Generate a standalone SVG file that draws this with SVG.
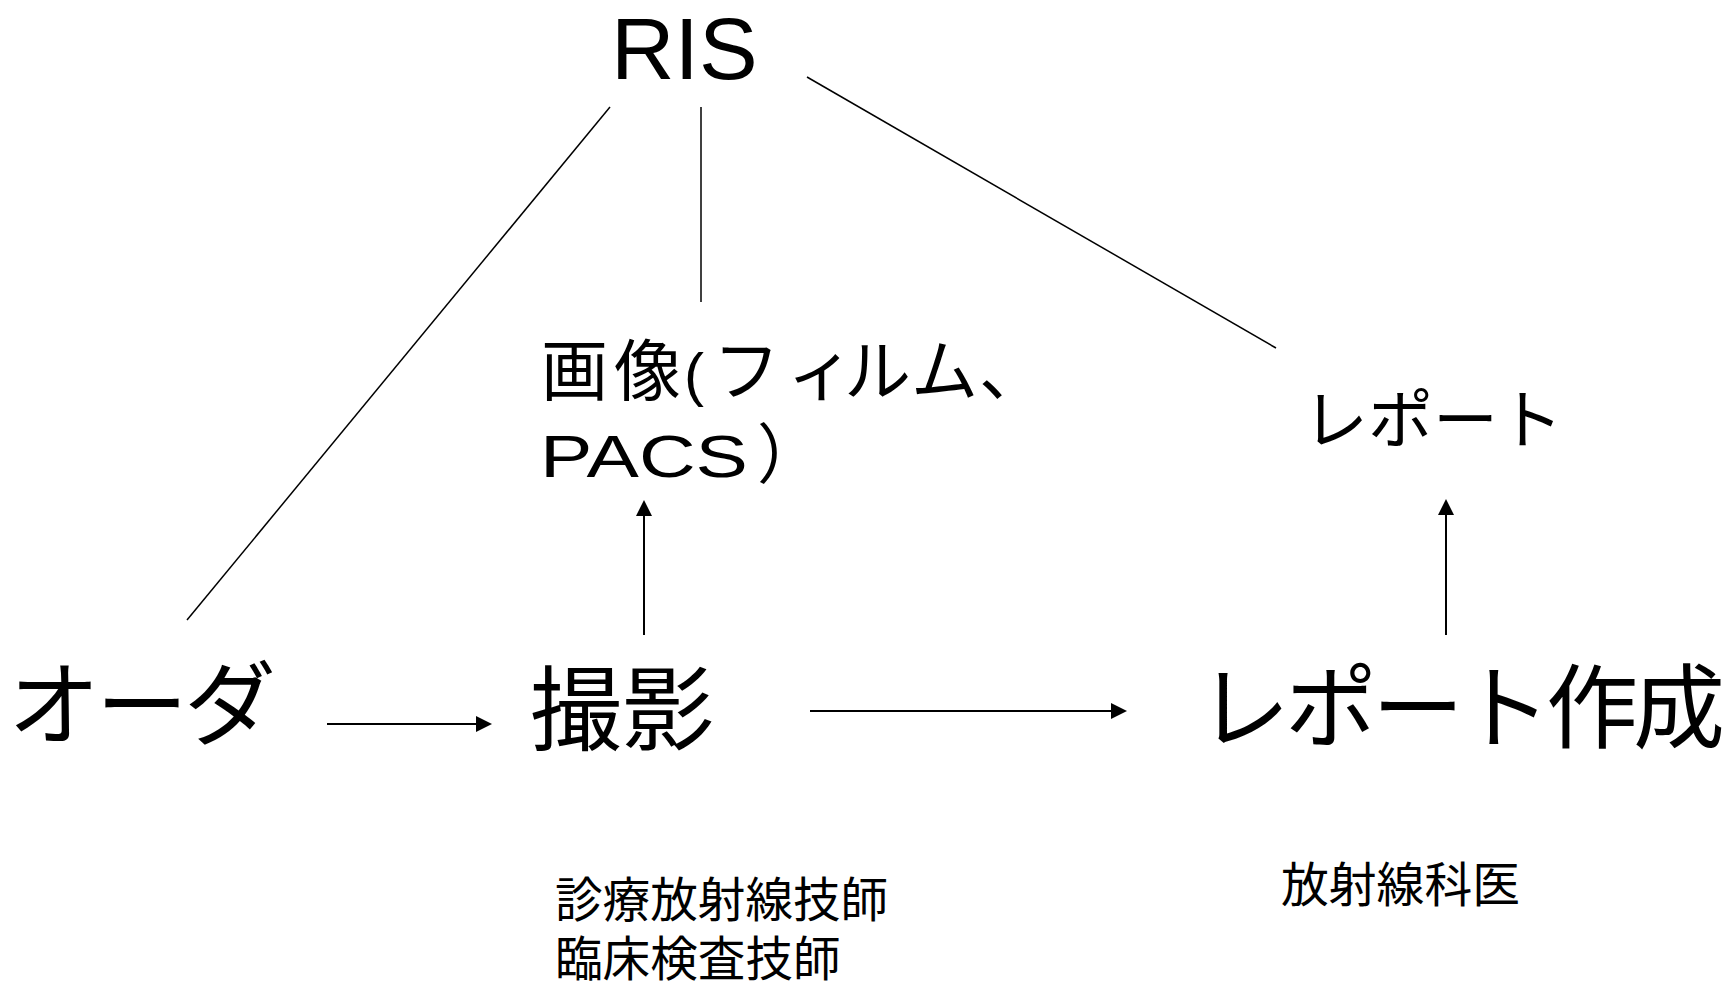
<svg xmlns="http://www.w3.org/2000/svg" width="1729" height="983" viewBox="0 0 1729 983">
<style>
text{fill:#000;font-family:"Liberation Sans","Noto Sans CJK JP",sans-serif}
.j{font-family:"Noto Sans CJK JP","Liberation Sans",sans-serif}
.ln{stroke:#000;stroke-width:1.5;fill:none}
.ar{stroke:#000;stroke-width:2;fill:none;marker-end:url(#ah)}
</style>
<defs>
<marker id="ah" markerWidth="8" markerHeight="8" refX="7" refY="4" orient="auto" markerUnits="strokeWidth">
<path d="M0,0 L8,4 L0,8 z" fill="#000"/>
</marker>
</defs>
<rect width="1729" height="983" fill="#fff"/>
<g id="connectors">
<line class="ln" x1="610" y1="107" x2="187" y2="620"/>
<line class="ln" x1="701" y1="107" x2="701" y2="302"/>
<line class="ln" x1="807" y1="77" x2="1276" y2="348"/>
<line class="ar" x1="327" y1="724" x2="490" y2="724"/>
<line class="ar" x1="810" y1="711" x2="1125" y2="711"/>
<line class="ar" x1="644" y1="635" x2="644" y2="502"/>
<line class="ar" x1="1446" y1="635" x2="1446" y2="501"/>
</g>
<g id="ris"><text x="611" y="79" font-size="88">RIS</text></g>
<g id="image"><text font-size="60"><tspan class="j" font-size="67" x="541 614" y="395">画像</tspan><tspan x="684" y="395">(</tspan><tspan class="j" font-size="67" x="713 787 844 911 979" y="395">フィルム、</tspan><tspan x="540" y="477" textLength="208" lengthAdjust="spacingAndGlyphs">PACS</tspan><tspan class="j" font-size="65" x="757" y="477">）</tspan></text></g>
<g id="report"><text class="j" x="1303" y="443" font-size="65">レポート</text></g>
<g id="order"><text class="j" x="8" y="738" font-size="92" letter-spacing="-4">オーダ</text></g>
<g id="satsuei"><text class="j" x="530" y="743" font-size="92">撮影</text></g>
<g id="report-make"><text class="j" x="1198" y="741" font-size="92" letter-spacing="-5">レポート作成</text></g>
<g id="staff1"><text class="j" font-size="47.6"><tspan x="555" y="917">診療放射線技師</tspan><tspan x="555" y="976">臨床検査技師</tspan></text></g>
<g id="staff2"><text class="j" x="1281" y="902" font-size="47.8">放射線科医</text></g>
</svg>
